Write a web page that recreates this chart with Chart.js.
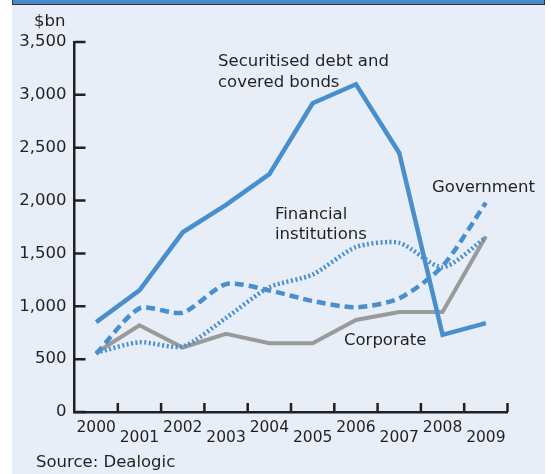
<!DOCTYPE html>
<html>
<head>
<meta charset="utf-8">
<script src="https://cdn.jsdelivr.net/npm/chart.js@4/dist/chart.umd.min.js"></script>
<style>
  html, body { margin: 0; padding: 0; background: #ffffff; }
  #panel { position: absolute; left: 12px; top: 0; width: 533px; height: 474px; background: #e7eef7; }
  #band { position: absolute; left: 12px; top: 0; width: 531px; height: 4px; background: #4a8ac9;
          border: 1px solid #2b3440; border-top: none; }
  #wrap { position: absolute; left: 0; top: 0; width: 551px; height: 474px; }
</style>
</head>
<body>
<div id="panel"></div>
<div id="band"></div>
<div id="wrap"><canvas id="myChart" width="551" height="474"></canvas></div>
<script>
// issuance by type, $bn
const years = ['2000','2001','2002','2003','2004','2005','2006','2007','2008','2009'];
const securitised = [850, 1150, 1700, 1960, 2250, 2920, 3100, 2450, 730, 840];
const government  = [550, 980, 940, 1210, 1150, 1050, 990, 1075, 1380, 1980];
const financial   = [560, 660, 620, 890, 1180, 1300, 1560, 1600, 1370, 1650];
const corporate   = [560, 820, 610, 740, 650, 650, 870, 945, 945, 1660];
const yTicks = [0, 500, 1000, 1500, 2000, 2500, 3000, 3500];

const BLUE = '#4a8fcd';
const GREY = '#9a9a9a';
const INK = '#231f20';
const FONT = '"DejaVu Sans", Verdana, sans-serif';

// line labels and the other loose text
const notes = [
  { text: 'Securitised debt and', x: 218, y: 66 },
  { text: 'covered bonds', x: 218, y: 87 },
  { text: 'Financial', x: 275, y: 219 },
  { text: 'institutions', x: 275, y: 239 },
  { text: 'Government', x: 432, y: 192 },
  { text: 'Corporate', x: 344, y: 345 },
  { text: '$bn', x: 34, y: 26 },
  { text: 'Source: Dealogic', x: 36, y: 467 }
];

// inward tick marks on both axes + the text notes
const extras = {
  id: 'extras',
  afterDraw(chart) {
    const ctx = chart.ctx;
    const xs = chart.scales.x, ys = chart.scales.y;
    const area = chart.chartArea;
    ctx.save();
    ctx.strokeStyle = INK;
    ctx.lineWidth = 2.5;
    ctx.beginPath();
    yTicks.forEach(v => {
      const py = ys.getPixelForValue(v);
      ctx.moveTo(area.left, py);
      ctx.lineTo(area.left + 11, py);
    });
    for (let i = 0; i < years.length; i++) {
      const half = xs.width / years.length / 2;
      const px = xs.getPixelForTick(i) + half;
      ctx.moveTo(px, area.bottom);
      ctx.lineTo(px, area.bottom - 9);
    }
    ctx.stroke();

    ctx.fillStyle = INK;
    ctx.font = '16.5px ' + FONT;
    ctx.textAlign = 'left';
    ctx.textBaseline = 'alphabetic';
    notes.forEach(n => ctx.fillText(n.text, n.x, n.y));
    ctx.restore();
  }
};

const ctx = document.getElementById('myChart').getContext('2d');
const myChart = new Chart(ctx, {
  type: 'line',
  data: {
    labels: years,
    datasets: [{
      label: 'Securitised debt and covered bonds',
      data: securitised,
      borderColor: BLUE,
      borderWidth: 4.5,
      tension: 0
    }, {
      label: 'Government',
      data: government,
      borderColor: BLUE,
      borderWidth: 4.5,
      borderDash: [9, 5],
      tension: 0.25
    }, {
      label: 'Financial institutions',
      data: financial,
      borderColor: BLUE,
      borderWidth: 4.5,
      borderDash: [2, 2.5],
      tension: 0.25
    }, {
      label: 'Corporate',
      data: corporate,
      borderColor: GREY,
      borderWidth: 4,
      tension: 0
    }]
  },
  options: {
    responsive: false,
    animation: false,
    layout: { padding: { left: 0, right: 43.5, top: 42, bottom: 0 } },
    elements: { point: { radius: 0 }, line: { borderCapStyle: 'butt', borderJoinStyle: 'miter' } },
    plugins: { legend: { display: false }, tooltip: { enabled: false } },
    scales: {
      x: {
        offset: true,
        grid: { display: false, drawTicks: false },
        border: { display: true, color: INK, width: 2.5 },
        ticks: {
          color: INK,
          font: { family: FONT, size: 15.5, lineHeight: 0.66 },
          padding: 11,
          maxRotation: 0,
          autoSkip: false,
          callback: function (value, index) {
            const lab = this.getLabelForValue(value);
            return index % 2 ? ['', lab] : [lab];
          }
        },
        afterFit(scale) { scale.height = 62; }
      },
      y: {
        min: 0,
        max: 3500,
        grid: { display: false, drawTicks: false },
        border: { display: true, color: INK, width: 2.5 },
        ticks: {
          color: INK,
          font: { family: FONT, size: 16.5 },
          padding: 8,
          stepSize: 500
        },
        afterBuildTicks(scale) { scale.ticks = yTicks.map(v => ({ value: v })); },
        afterFit(scale) { scale.width = 74.5; }
      }
    }
  },
  plugins: [extras]
});
</script>
</body>
</html>
